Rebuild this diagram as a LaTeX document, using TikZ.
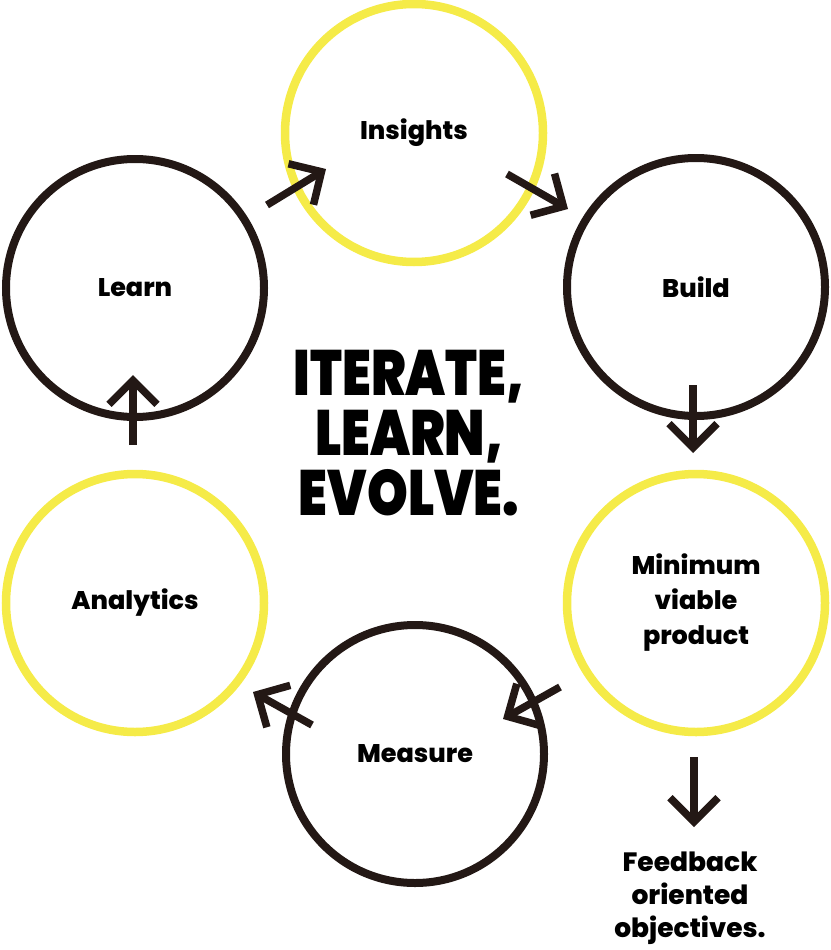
\documentclass[tikz,border=0pt]{standalone}
\usepackage{fontspec}
\setmainfont{Poppins}[BoldFont=* ExtraBold]
\newfontfamily\titlefont{Poppins}[UprightFont=* Black, FakeStretch=0.81]
\usetikzlibrary{arrows.meta}
\definecolor{ink}{RGB}{35,24,21}
\definecolor{sun}{RGB}{245,235,72}
\tikzset{
  ring/.style={circle, minimum size=258pt, inner sep=0pt, line width=8pt, font=\bfseries\fontsize{25.5}{35}\selectfont, text=black, align=center},
  darkring/.style={ring, draw=ink},
  sunring/.style={ring, draw=sun, line width=8.5pt},
  flow/.style={draw=ink, line width=7.5pt, -{Straight Barb[length=24pt,width=48pt,line cap=butt,line join=miter]}},
  headline/.style={font=\titlefont\fontsize{64}{64}\selectfont, text=black, anchor=base},
  note/.style={font=\bfseries\fontsize{26.5}{33}\selectfont, align=center, text=black}
}
\begin{document}
\begin{tikzpicture}[x=1pt,y=-1pt]
\useasboundingbox (0,0) rectangle (830,950);
% cycle of six stages
\node[sunring]  (insights)  at (414,133) {Insights};
\node[darkring] (learn)     at (135,288) {Learn};
\node[darkring] (build)     at (696,287) {Build};
\node[sunring]  (mvp)       at (696,603) {Minimum\\viable\\product};
\node[sunring]  (analytics) at (135,603) {Analytics};
\node[darkring] (measure)   at (415,754) {Measure};
% arrow end points between neighbouring stages
\coordinate (a1s) at (267,205); \coordinate (a1e) at (326,169);
\coordinate (a2s) at (507,174); \coordinate (a2e) at (568,209);
\coordinate (a3s) at (693,385); \coordinate (a3e) at (693,453);
\coordinate (a4s) at (560,687); \coordinate (a4e) at (503,719);
\coordinate (a5s) at (312,725); \coordinate (a5e) at (253,692);
\coordinate (a6s) at (133,445); \coordinate (a6e) at (133,375);
\coordinate (a7s) at (694,757); \coordinate (a7e) at (694,827);
\draw[flow] (a1s) -- (a1e);
\draw[flow] (a2s) -- (a2e);
\draw[flow] (a3s) -- (a3e);
\draw[flow] (a4s) -- (a4e);
\draw[flow] (a5s) -- (a5e);
\draw[flow] (a6s) -- (a6e);
\draw[flow] (a7s) -- (a7e);
% central headline
\node[headline] (t1) at (409,395) {ITERATE,};
\node[headline] (t2) at (409,455) {LEARN,};
\node[headline] (t3) at (409,515) {EVOLVE.};
% outcome
\node[note] (feedback) at (690,898) {Feedback\\oriented\\objectives.};
\end{tikzpicture}
\end{document}
